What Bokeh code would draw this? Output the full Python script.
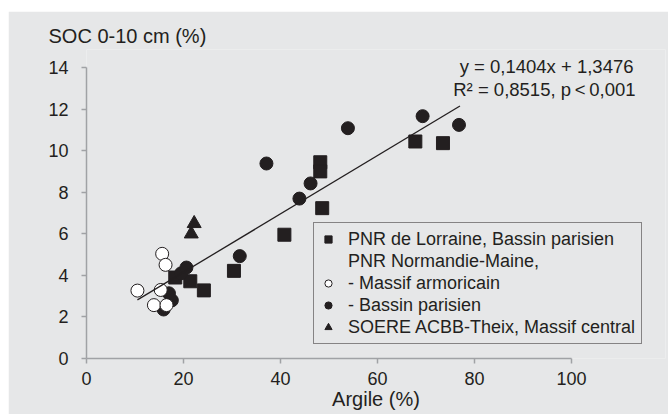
from bokeh.plotting import figure
from bokeh.models import Range1d, FixedTicker, Label, Legend, LegendItem, Spacer
from bokeh.layouts import column, row
from bokeh.embed import file_html
from bokeh.resources import INLINE

# --- data ---
lorraine_x = [18.3, 21.4, 24.2, 30.4, 40.8, 48.2, 48.2, 48.6, 67.8, 73.5]
lorraine_y = [3.90, 3.72, 3.28, 4.22, 5.96, 9.45, 9.01, 7.24, 10.45, 10.37]

armoricain_x = [10.5, 13.9, 15.3, 15.6, 16.3, 16.5]
armoricain_y = [3.27, 2.57, 3.30, 5.04, 4.51, 2.57]

parisien_x = [15.9, 17.0, 17.6, 19.5, 20.6, 31.6, 37.1, 43.9, 46.2, 53.9, 69.3, 76.8]
parisien_y = [2.36, 3.14, 2.80, 4.10, 4.38, 4.93, 9.39, 7.70, 8.43, 11.09, 11.67, 11.25]

theix_x = [21.6, 22.2]
theix_y = [6.00, 6.50]

slope = 0.1404
intercept = 1.3476
fit_x = [10.5, 77.0]

x_ticks = [0, 20, 40, 60, 80, 100]
y_ticks = [0, 2, 4, 6, 8, 10, 12, 14]

legend_labels = [
    "PNR de Lorraine, Bassin parisien",
    "PNR Normandie-Maine,",
    "- Massif armoricain",
    "- Bassin parisien",
    "SOERE ACBB-Theix, Massif central",
]

x_title = "Argile (%)"
y_title = "SOC 0-10 cm (%)"
eq_line1 = "y = 0,1404x + 1,3476"
eq_line2 = "R\u00b2 = 0,8515, p\u2009<\u20090,001"

# --- style ---
BG = "#e6e7e8"
INK = "#231f20"
AXIS = "#a0a2a5"
FONT = "Liberation Sans"

p = figure(width=660, height=403,
           x_range=Range1d(0, 119.38), y_range=Range1d(0, 14.88),
           output_backend="svg", toolbar_location=None,
           min_border_left=78, min_border_right=3,
           min_border_top=38, min_border_bottom=56)
p.background_fill_color = BG
p.border_fill_color = BG
p.outline_line_color = None
p.grid.visible = False

p.title.text = y_title
p.title.text_font = FONT
p.title.text_font_size = "20px"
p.title.text_font_style = "normal"
p.title.text_color = INK
p.title.align = "left"
p.title.offset = -38
p.title.standoff = 5

for ax, ticks, bounds, standoff in ((p.xaxis[0], x_ticks, (0, 100), 8),
                                    (p.yaxis[0], y_ticks, (0, 14), 13)):
    ax.ticker = FixedTicker(ticks=ticks)
    ax.bounds = bounds
    ax.axis_line_color = AXIS
    ax.axis_line_width = 1.5
    ax.major_tick_line_color = AXIS
    ax.major_tick_line_width = 1.5
    ax.major_tick_in = 0
    ax.major_tick_out = 5
    ax.minor_tick_line_color = None
    ax.major_label_text_font = FONT
    ax.major_label_text_font_size = "18px"
    ax.major_label_text_color = INK
    ax.major_label_standoff = standoff

p.xaxis.axis_label = x_title
p.xaxis.axis_label_text_font = FONT
p.xaxis.axis_label_text_font_size = "20px"
p.xaxis.axis_label_text_font_style = "normal"
p.xaxis.axis_label_text_color = INK
p.xaxis.axis_label_standoff = 0

r_sq = p.scatter(lorraine_x, lorraine_y, marker="square", size=13,
                 fill_color=INK, line_color=INK)
r_fc = p.scatter(parisien_x, parisien_y, marker="circle", size=13,
                 fill_color=INK, line_color=INK)
r_oc = p.scatter(armoricain_x, armoricain_y, marker="circle", size=13,
                 fill_color="white", line_color=INK, line_width=1)
r_tr = p.scatter(theix_x, theix_y, marker="triangle", size=14,
                 fill_color=INK, line_color=INK)
r_blank = p.scatter(x=[], y=[], marker="circle", size=1,
                    fill_alpha=0, line_alpha=0)

fit_y = [slope * x + intercept for x in fit_x]
p.line(fit_x, fit_y, line_color=INK, line_width=1.3)

legend = Legend(items=[
    LegendItem(label=legend_labels[0], renderers=[r_sq]),
    LegendItem(label=legend_labels[1], renderers=[r_blank]),
    LegendItem(label=legend_labels[2], renderers=[r_oc]),
    LegendItem(label=legend_labels[3], renderers=[r_fc]),
    LegendItem(label=legend_labels[4], renderers=[r_tr]),
], location=(227, 14))
legend.margin = 0
legend.padding = 5
legend.glyph_width = 18
legend.glyph_height = 22
legend.label_height = 22
legend.spacing = 0
legend.label_standoff = 11
legend.label_width = 288
legend.label_text_font = FONT
legend.label_text_font_size = "18px"
legend.label_text_color = INK
legend.border_line_color = INK
legend.border_line_width = 1
legend.background_fill_alpha = 0
p.add_layout(legend)

common = dict(x_units="screen", y_units="screen", text_font=FONT, text_color=INK)
p.add_layout(Label(x=547, y=292, text=eq_line1, text_font_size="18.5px",
                   text_align="right", text_baseline="alphabetic", **common))
p.add_layout(Label(x=549, y=269, text=eq_line2, text_font_size="18.5px",
                   text_align="right", text_baseline="alphabetic", **common))

layout = column(Spacer(width=668, height=11), row(Spacer(width=8, height=403), p))

with open("out.html", "w") as f:
    f.write(file_html(layout, INLINE))
